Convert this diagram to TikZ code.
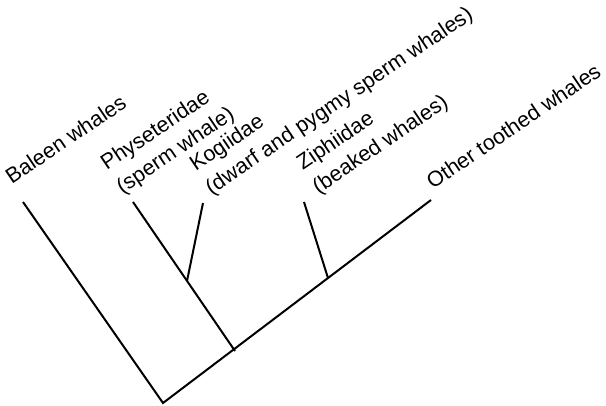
\documentclass[tikz,border=0pt]{standalone}
\usepackage{fontspec}
\setmainfont{Liberation Sans}
\begin{document}
\begin{tikzpicture}[x=1pt,y=-1pt,
  branch/.style={line width=2pt, line cap=butt, line join=miter},
  taxon/.style={rotate=34, anchor=south west, inner sep=0pt, align=left,
    font=\fontsize{21.5}{28}\selectfont}]
\useasboundingbox (0,0) rectangle (606,406);
% branch points and tips
\coordinate (root) at (163,403);
\coordinate (odont) at (235,351);
\coordinate (sperm) at (187,281);
\coordinate (zip) at (328,278);
\coordinate (tBaleen) at (23,202);
\coordinate (tPhys) at (133,202);
\coordinate (tKogi) at (203,203);
\coordinate (tZiph) at (304,202);
\coordinate (tOther) at (431,200);
% branches
\draw[branch] (tBaleen) -- (root) -- (tOther);
\draw[branch] (odont) -- (tPhys);
\draw[branch] (sperm) -- (tKogi);
\draw[branch] (zip) -- (tZiph);
% taxon labels
\node[taxon] (lBaleen) at (12,185) {Baleen whales};
\node[taxon] (lPhys) at (125,198) {Physeteridae\\(sperm whale)};
\node[taxon] (lKogi) at (214,199) {Kogiidae\\(dwarf and pygmy sperm whales)};
\node[taxon] (lZiph) at (321,198) {Ziphiidae\\(beaked whales)};
\node[taxon] (lOther) at (433,190) {Other toothed whales};
\end{tikzpicture}
\end{document}
